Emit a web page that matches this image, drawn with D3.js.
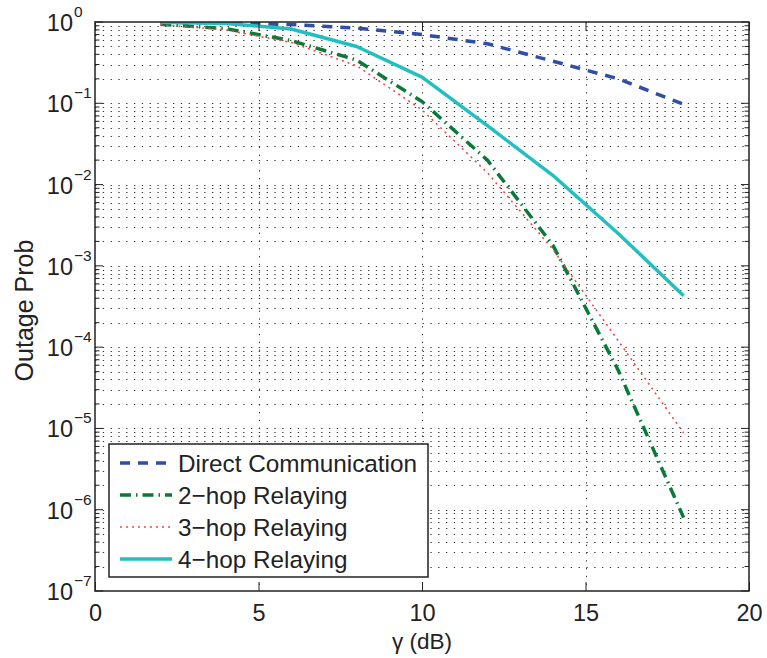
<!DOCTYPE html>
<html>
<head>
<meta charset="utf-8">
<script src="https://cdn.jsdelivr.net/npm/d3@7"></script>
<style>
  body { margin: 0; background: #fff; }
  svg { font-family: "Liberation Sans", Arial, sans-serif; }
</style>
</head>
<body>
<div id="chart"></div>
<script>
const gammaDb = [2, 4, 6, 8, 10, 12, 14, 16, 18];
const directComm = [0.99, 0.97, 0.93, 0.84, 0.70, 0.54, 0.33, 0.20, 0.097];
const hop2 = [0.94, 0.83, 0.59, 0.34, 0.105, 0.020, 0.0018, 5.2e-5, 8.0e-7];
const hop3 = [0.93, 0.80, 0.56, 0.29, 0.083, 0.014, 0.0016, 1.2e-4, 8.8e-6];
const hop4 = [0.995, 0.96, 0.82, 0.50, 0.21, 0.053, 0.013, 0.0025, 4.3e-4];
const xTicks = [0, 5, 10, 15, 20];
const yExponents = [0, -1, -2, -3, -4, -5, -6, -7];

const width = 767;
const height = 658;
const mLeft = 95, mRight = 749, mTop = 22, mBottom = 591;

const series = [
  { label: 'Direct Communication', values: directComm, color: '#2f4ea8', width: 3.5, dash: '10,8' },
  { label: '2\u2212hop Relaying', values: hop2, color: '#0a7a3a', width: 3.5, dash: '11,5,1.5,5' },
  { label: '3\u2212hop Relaying', values: hop3, color: '#f04848', width: 1.6, dash: '2,4' },
  { label: '4\u2212hop Relaying', values: hop4, color: '#22bfc0', width: 3.5, dash: null },
];

const svg = d3.select('#chart')
  .append('svg')
  .attr('width', width)
  .attr('height', height);

const x = d3.scaleLinear().domain([0, 20]).range([mLeft, mRight]);
const y = d3.scaleLog().domain([1e-7, 1]).range([mBottom, mTop]);

// grid (dotted)
const grid = svg.append('g').attr('stroke', '#333').attr('stroke-width', 1)
  .attr('stroke-dasharray', '1.3,6.5');
grid.selectAll('.hgrid')
  .data(y.ticks().filter(d => d < 0.999 && d > 1.001e-7))
  .enter().append('line')
  .attr('x1', mLeft).attr('x2', mRight)
  .attr('y1', d => Math.round(y(d)) + 0.5).attr('y2', d => Math.round(y(d)) + 0.5);
grid.selectAll('.vgrid')
  .data(xTicks.slice(1, -1))
  .enter().append('line')
  .attr('x1', d => Math.round(x(d)) + 0.5).attr('x2', d => Math.round(x(d)) + 0.5)
  .attr('y1', mTop).attr('y2', mBottom);

// lines
svg.append('clipPath').attr('id', 'clip')
  .append('rect').attr('x', mLeft).attr('y', mTop).attr('width', mRight - mLeft).attr('height', mBottom - mTop);

const line = d3.line()
  .x((d, i) => x(gammaDb[i]))
  .y(d => y(d));

svg.append('g').attr('clip-path', 'url(#clip)')
  .selectAll('path')
  .data(series)
  .enter()
  .append('path')
  .attr('d', d => line(d.values))
  .attr('fill', 'none')
  .attr('stroke', d => d.color)
  .attr('stroke-width', d => d.width)
  .attr('stroke-dasharray', d => d.dash)
  .attr('stroke-linejoin', 'round');

// axes ticks
const tickColor = '#222';
svg.append('g')
  .attr('transform', `translate(0,${mBottom})`)
  .call(d3.axisBottom(x).tickValues(xTicks).tickSizeInner(-9).tickSizeOuter(0).tickPadding(13))
  .call(g => g.select('.domain').remove())
  .call(g => g.selectAll('line').attr('stroke', tickColor))
  .call(g => g.selectAll('text').attr('font-size', 23.5).attr('fill', '#222'))
  .attr('font-family', null);
svg.append('g')
  .attr('transform', `translate(0,${mTop})`)
  .call(d3.axisTop(x).tickValues(xTicks).tickSizeInner(-9).tickSizeOuter(0).tickFormat(''))
  .call(g => g.select('.domain').remove())
  .call(g => g.selectAll('line').attr('stroke', tickColor));

const yMinor = y.ticks().filter(d => Math.abs(Math.log10(d) - Math.round(Math.log10(d))) > 1e-6);
const yMajor = yExponents.map(e => Math.pow(10, e));
[[mLeft, 1], [mRight, -1]].forEach(([ax, dir]) => {
  svg.append('g').selectAll('line')
    .data(yMinor).enter().append('line')
    .attr('x1', ax).attr('x2', ax + dir * 4.5)
    .attr('y1', d => y(d)).attr('y2', d => y(d))
    .attr('stroke', tickColor);
  svg.append('g').selectAll('line')
    .data(yMajor).enter().append('line')
    .attr('x1', ax).attr('x2', ax + dir * 8)
    .attr('y1', d => y(d)).attr('y2', d => y(d))
    .attr('stroke', tickColor);
});

// y tick labels with superscripts
const yLab = svg.append('g').attr('fill', '#222');
yExponents.forEach(e => {
  const ty = y(Math.pow(10, e));
  yLab.append('text')
    .attr('x', 73).attr('y', ty + 9)
    .attr('text-anchor', 'end')
    .attr('font-size', 23.5)
    .text('10');
  yLab.append('text')
    .attr('x', 74).attr('y', ty - 5)
    .attr('font-size', 15.5)
    .text(e < 0 ? '\u2212' + (-e) : String(e));
});

// frame
svg.append('rect')
  .attr('x', mLeft).attr('y', mTop)
  .attr('width', mRight - mLeft).attr('height', mBottom - mTop)
  .attr('fill', 'none').attr('stroke', '#222').attr('stroke-width', 1.5);

// axis labels
svg.append('text')
  .attr('x', (mLeft + mRight) / 2).attr('y', 649)
  .attr('text-anchor', 'middle')
  .attr('font-size', 22.5)
  .attr('fill', '#222')
  .text('\u03b3 (dB)');

svg.append('text')
  .attr('transform', `translate(33,${(mTop + mBottom) / 2 + 4}) rotate(-90)`)
  .attr('text-anchor', 'middle')
  .attr('font-size', 25)
  .attr('fill', '#222')
  .text('Outage Prob');

// legend
const legend = svg.append('g');
legend.append('rect')
  .attr('x', 109).attr('y', 444).attr('width', 319).attr('height', 133)
  .attr('fill', '#fff').attr('stroke', '#222').attr('stroke-width', 1.5);

const rows = legend.selectAll('.legend')
  .data(series)
  .enter()
  .append('g')
  .attr('class', 'legend')
  .attr('transform', (d, i) => `translate(0,${463 + i * 32})`);

rows.append('line')
  .attr('x1', 120).attr('x2', 172)
  .attr('stroke', d => d.color)
  .attr('stroke-width', d => d.width)
  .attr('stroke-dasharray', d => d.dash);

rows.append('text')
  .attr('x', 178).attr('y', 8.5)
  .attr('font-size', 24.3)
  .attr('fill', '#222')
  .text(d => d.label);
</script>
</body>
</html>
